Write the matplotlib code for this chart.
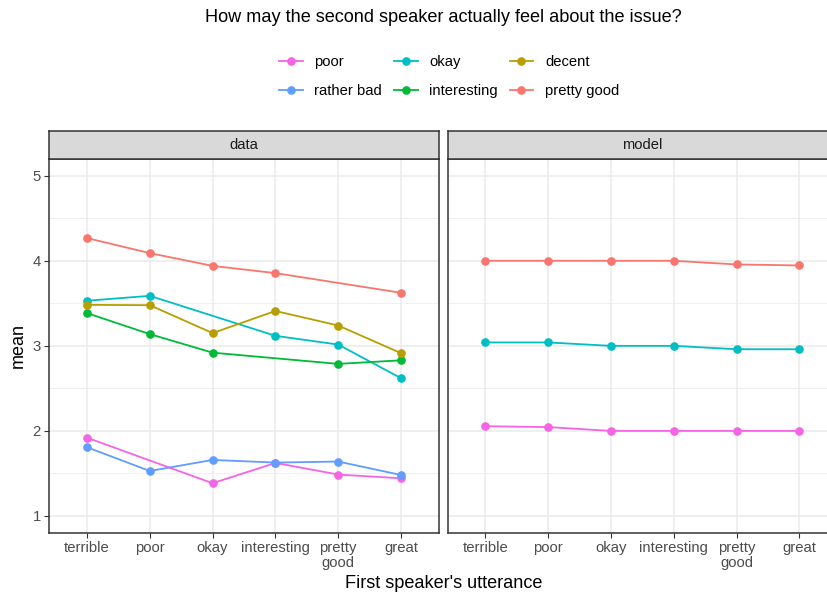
import numpy as np
import matplotlib
matplotlib.use("Agg")
import matplotlib.pyplot as plt
from matplotlib.lines import Line2D

plt.rcParams['font.family'] = ['Liberation Sans', 'DejaVu Sans']

utterances = ["terrible", "poor", "okay", "interesting", "pretty good", "great"]
tick_labels = ["terrible", "poor", "okay", "interesting", "pretty\ngood", "great"]

states = ["poor", "rather bad", "okay", "interesting", "decent", "pretty good"]
colors = {
    "poor": "#F564E3",
    "rather bad": "#619CFF",
    "okay": "#00BFC4",
    "interesting": "#00BA38",
    "decent": "#B79F00",
    "pretty good": "#F8766D",
}

# Observed means per utterance (None where no observation exists)
data_poor = [1.92, None, 1.385, 1.624, 1.487, 1.443]
data_rather_bad = [1.808, 1.529, 1.659, 1.628, 1.64, 1.482]
data_okay = [3.53, 3.588, None, 3.118, 3.015, 2.62]
data_interesting = [3.385, 3.138, 2.92, None, 2.788, 2.83]
data_decent = [3.482, 3.478, 3.15, 3.41, 3.239, 2.914]
data_pretty_good = [4.267, 4.09, 3.94, 3.855, None, 3.624]

# Model predictions
model_poor = [2.055, 2.045, 2.0, 2.0, 2.0, 2.0]
model_okay = [3.04, 3.04, 3.0, 3.0, 2.96, 2.96]
model_pretty_good = [4.0, 4.0, 4.0, 4.0, 3.957, 3.945]

data_series = {
    "poor": data_poor,
    "rather bad": data_rather_bad,
    "okay": data_okay,
    "interesting": data_interesting,
    "decent": data_decent,
    "pretty good": data_pretty_good,
}
model_series = {
    "poor": model_poor,
    "okay": model_okay,
    "pretty good": model_pretty_good,
}

W, H = 827, 596
fig = plt.figure(figsize=(W / 100, H / 100), dpi=100)

def fx(px):
    return px / W

def fy(py):
    return 1 - py / H

panel_top, panel_bot = 158.7, 533.0
strip_top = 130.5
panels = [("data", 49.3, 438.7, data_series), ("model", 447.7, 837.1, model_series)]

grid_col = "#EBEBEB"
frame_col = "#333333"
text_col = "#4D4D4D"

for i, (name, x0, x1, series) in enumerate(panels):
    ax = fig.add_axes([fx(x0), fy(panel_bot), (x1 - x0) / W, (panel_bot - panel_top) / H])
    ax.set_xlim(-0.6, 5.6)
    ax.set_ylim(0.8, 5.2)
    ax.set_xticks(range(len(utterances)))
    ax.set_yticks([1, 2, 3, 4, 5])
    ax.set_yticks([1.5, 2.5, 3.5, 4.5], minor=True)
    ax.grid(True, which="major", color=grid_col, linewidth=1.1, zorder=0)
    ax.grid(True, which="minor", axis="y", color=grid_col, linewidth=0.55, zorder=0)
    ax.set_axisbelow(True)
    for s in ax.spines.values():
        s.set_color(frame_col)
        s.set_linewidth(1.1)
    ax.tick_params(axis="both", which="major", color=frame_col, length=3.5, width=0.8,
                   labelcolor=text_col, labelsize=10.7, pad=2.5)
    ax.tick_params(axis="both", which="minor", length=0)
    ax.set_xticklabels(tick_labels, linespacing=1.05)
    if i == 0:
        ax.set_ylabel("mean", fontsize=13, color="black", labelpad=4)
    else:
        ax.set_yticklabels([])
        ax.tick_params(axis="y", length=0)

    for st in states:
        if st not in series:
            continue
        vals = series[st]
        xs = [k for k, v in enumerate(vals) if v is not None]
        ys = [v for v in vals if v is not None]
        ax.plot(xs, ys, color=colors[st], linewidth=1.3, marker="o", markersize=5.2,
                zorder=3, clip_on=False)

    # facet strip
    sax = fig.add_axes([fx(x0), fy(panel_top), (x1 - x0) / W, (panel_top - strip_top) / H])
    sax.set_facecolor("#D9D9D9")
    sax.set_xticks([])
    sax.set_yticks([])
    for s in sax.spines.values():
        s.set_color(frame_col)
        s.set_linewidth(1.1)
    sax.text(0.5, 0.5, name, ha="center", va="center", fontsize=10.6, color="#1A1A1A",
             transform=sax.transAxes)

center_x = (49.3 + 837.1) / 2
fig.text(fx(center_x), fy(18), "How may the second speaker actually feel about the issue?",
         ha="center", va="center", fontsize=13.1, color="black")
fig.text(fx(center_x), fy(583), "First speaker's utterance",
         ha="center", va="center", fontsize=13.1, color="black")

handles = [Line2D([0], [0], color=colors[st], linewidth=1.3, marker="o", markersize=5.2)
           for st in states]
fig.legend(handles, states, ncol=3, loc="center", bbox_to_anchor=(fx(center_x + 6), fy(76.5)),
           frameon=False, fontsize=10.6, handlelength=1.6, handletextpad=0.8,
           columnspacing=0.8, labelspacing=1.05)

fig.savefig("out.png", dpi=100, facecolor="white")
